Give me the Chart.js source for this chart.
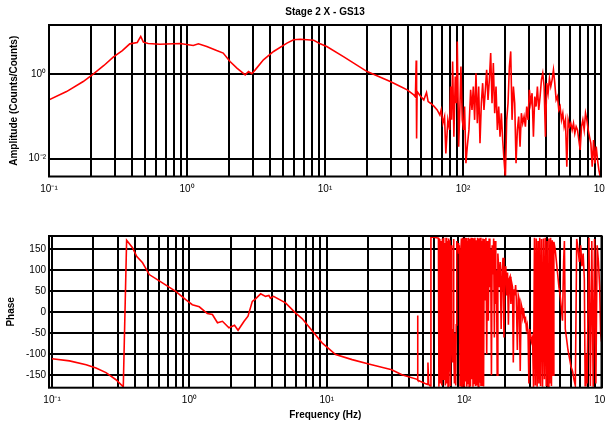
<!DOCTYPE html>
<html>
<head>
<meta charset="utf-8">
<script src="https://cdn.jsdelivr.net/npm/chart.js@4.4.1/dist/chart.umd.min.js"></script>
<style>
    html, body { margin: 0; padding: 0; background: #fff; }
    #wrap { position: relative; width: 605px; height: 424px; }
    .box { position: absolute; left: 0; width: 605px; }
    #ampBox { top: 0; height: 205px; }
    #phaseBox { top: 205px; height: 219px; }
</style>
</head>
<body>
<div id="wrap">
    <div class="box" id="ampBox"><canvas id="ampChart"></canvas></div>
    <div class="box" id="phaseBox"><canvas id="phaseChart"></canvas></div>
</div>
<script>
const chartTitle = 'Stage 2 X - GS13';
const ampAxisTitle = 'Amplitude (Counts/Counts)';
const phaseAxisTitle = 'Phase';
const freqAxisTitle = 'Frequency (Hz)';

// Tick labels
const freqDecades = [0.1, 1, 10, 100, 1000];
const freqDecadeLabels = ['10⁻¹', '10⁰', '10¹', '10²', '10³'];
const ampTicks = [0.01, 1];
const ampTickLabels = ['10⁻²', '10⁰'];
const phaseTicks = [-150, -100, -50, 0, 50, 100, 150];

// Amplitude response
const ampFreq = [0.1, 0.134, 0.177, 0.209, 0.25, 0.292, 0.34, 0.385, 0.436, 0.462,
    0.483, 0.523, 0.636, 0.89, 1.11, 1.21, 1.39, 1.64, 1.83, 2.05,
    2.3, 2.64, 2.79, 2.95, 3.12, 3.58, 4.24, 5.3, 5.92, 6.62,
    8.29, 9.24, 10.3, 13.6, 20.2, 29.7, 35.2, 39.4, 44.0, 45.2,
    45.8, 46.1, 46.5, 49.2, 52.0, 54.4, 55.9, 58.2, 61.5, 65.0,
    68.0, 69.5, 71.5, 73.5, 75.1, 77.7, 80.0, 81.3, 82.7, 84.1,
    85.9, 87.9, 89.4, 90.9, 93.0, 95.0, 96.6, 98.8, 101.0, 102.7,
    105.0, 107.4, 110.4, 113.6, 116.2, 118.8, 121.4, 124.2, 127.0, 129.9,
    132.8, 135.8, 138.8, 141.9, 145.2, 148.4, 151.8, 155.2, 158.7, 162.3,
    165.9, 169.7, 173.5, 177.4, 181.4, 185.5, 189.6, 193.9, 198.3, 202.8,
    207.3, 212.0, 216.8, 221.7, 226.7, 231.8, 237.0, 242.3, 247.7, 253.3,
    259.0, 264.9, 270.9, 277.0, 283.2, 289.6, 296.1, 302.8, 309.7, 316.6,
    323.8, 331.1, 338.5, 346.1, 353.9, 361.9, 370.1, 378.4, 387.0, 395.7,
    404.6, 413.7, 423.1, 432.5, 442.3, 452.3, 462.5, 472.9, 483.6, 494.5,
    505.6, 517.0, 528.7, 540.6, 552.8, 565.2, 578.0, 591.0, 604.3, 617.9,
    631.9, 646.1, 660.7, 675.6, 690.8, 706.4, 722.3, 738.6, 755.4, 772.4,
    789.8, 807.6, 825.8, 844.5, 863.5, 883.0, 902.9, 923.3, 944.2, 965.4,
    987.2];
const ampValue = [0.246, 0.387, 0.668, 1.0, 1.6, 2.53, 3.6, 5.2, 5.6, 7.8,
    5.7, 5.3, 5.1, 5.3, 4.76, 5.2, 4.5, 3.6, 3.14, 1.99,
    1.39, 0.96, 1.15, 1.02, 1.26, 2.18, 3.43, 5.4, 6.5, 6.7,
    6.3, 5.2, 4.5, 2.6, 1.15, 0.668, 0.509, 0.425, 0.323, 0.29,
    2.1, 0.03, 0.39, 0.3, 0.246, 0.367, 0.225, 0.205, 0.175, 0.143,
    0.108, 0.143, 0.069, 0.099, 0.0134, 0.083, 0.048, 0.509, 0.083, 1.99,
    0.033, 0.879, 0.205, 5.93, 0.0193, 0.171, 1.52, 0.083, 0.048, 0.171,
    0.0078, 0.0193, 0.048, 0.425, 0.143, 0.509, 0.083, 1.05, 0.069, 0.509,
    0.0231, 0.205, 0.611, 0.143, 0.425, 1.26, 0.246, 0.733, 3.14, 0.205,
    1.82, 0.119, 0.509, 0.048, 0.171, 0.033, 0.119, 0.0277, 0.0093, 0.0035,
    0.083, 0.205, 1.52, 3.44, 0.083, 0.509, 0.205, 0.0078, 0.048, 0.099,
    0.0193, 0.119, 0.069, 0.099, 0.0574, 0.171, 0.083, 0.425, 0.205, 0.354,
    0.033, 0.295, 0.171, 0.509, 0.143, 0.295, 0.733, 1.05, 0.509, 0.033,
    0.611, 0.354, 0.802, 0.509, 0.733, 1.26, 0.611, 0.246, 0.295, 0.143,
    0.171, 0.083, 0.119, 0.0574, 0.083, 0.00647, 0.083, 0.0574, 0.069, 0.048,
    0.069, 0.0399, 0.0574, 0.048, 0.0277, 0.0161, 0.0574, 0.083, 0.048, 0.119,
    0.083, 0.048, 0.033, 0.0231, 0.00647, 0.0277, 0.00776, 0.0193, 0.0093, 0.0054,
    0.0038];

// Phase response (degrees, wraps at +/-180)
const phaseFreq = [0.1, 0.134, 0.177, 0.209, 0.247, 0.292, 0.33, 0.349, 0.385, 0.414,
    0.456, 0.51, 0.636, 0.795, 0.94, 1.05, 1.18, 1.35, 1.47, 1.6,
    1.74, 1.94, 2.13, 2.26, 2.5, 2.67, 2.87, 3.03, 3.3, 3.58,
    3.79, 3.89, 4.1, 5.01, 5.91, 6.61, 8.05, 9.24, 11.6, 15.3,
    20.2, 29.7, 35.2, 45.5, 45.8, 46.1, 52, 54, 54.5, 55.2,
    56.6, 57.3, 60, 63, 65,
    65.5, 66.5, 67.2, 68, 68.8, 69.5, 70.3, 71, 71.7, 72.3,
    73, 73.8, 74.6, 75.5, 76.3, 77.2, 78, 78.8, 79.6, 80.5,
    81.3, 82.3, 83, 83.6, 84.3, 85, 85.9, 86.8, 87.6, 88.4,
    89.3, 90.3, 91.2, 92.2, 93.4, 94.3, 95.5, 96.5, 97.5, 98.5,
    99.5, 100.5, 101.6, 102.6, 103.6, 104.6, 105.6, 106.7, 107.8, 108.8,
    110, 111.2, 112.4, 113.6, 114.8, 116, 117.2, 118.5, 119.8, 121,
    122.4, 123.8, 125.2, 126.6, 128, 129.5, 131, 132.5, 134, 135.5,
    137, 138.5, 140, 142, 144, 146, 148, 150, 152, 154,
    156, 158, 160, 162, 164, 166, 168, 170, 172, 174,
    176, 178, 180, 183, 186, 189, 192, 195, 198, 201,
    204, 207, 210, 213, 216, 219, 222, 225, 228, 231,
    234, 237, 240, 244, 248, 252, 256, 260, 264, 268,
    272, 276, 280, 284, 288, 292, 296, 300, 305, 310,
    315, 320, 325, 330, 335, 340, 345, 350, 355, 360,
    366, 372, 378, 384, 390, 396, 402, 408, 414, 420,
    426, 432, 438, 444, 450, 460, 470, 480, 490, 500,
    510, 520, 530, 537, 545, 555, 570, 585, 600, 615,
    630, 645, 660, 675, 690, 705, 720, 735, 750, 760,
    770, 785, 810, 830, 850, 870, 890, 910, 930, 950,
    970, 985, 1000];
const phaseValue = [-111, -116, -125, -133, -144, -161, -178, 172, 154, 133,
    118, 90, 70, 50, 30, 18, 13, -3, -5.5, -25,
    -21.5, -37, -31, -43, -21.5, -9.5, 26, 32, 44, 38,
    40, 33.5, 38, 22.5, -1.5, -15, -49, -73, -101, -113,
    -123.5, -137, -149, -160, -8, -162, -170, -172, -120, -172,
    -176, 180, 179, 178, 177,
    -178, 175, -170, 170, -175, 176, -160, 178, -100, 165,
    -175, 178, -170, 170, -178, 176, -140, 172, -176, 160,
    -60, -120, -40, 175, -90, -170, -50, -175, -30, 170,
    150, 165, 140, 160, -175, 130, 176, -178, 178, -170,
    176, -178, 178, -165, 177, -178, 170, -170, 178, -178,
    175, -176, 178, -160, 177, -178, 175, -170, 178, -176,
    172, -175, 178, -178, 176, -168, 178, -176, 170, -174,
    176, -177, 175, 30, 178, -100, 170, -20, 176, 60,
    150, -150, 160, 90, 176, -60, 170, 20, 100, -150,
    140, 110, 60, 120, -40, 100, 130, -60, 90, 110,
    40, 95, -30, 80, 85, 20, 70, 60, -120, 55,
    40, 65, 30, -90, 40, 30, -140, 20, 10, -10,
    0, -20, -15, -40, -30, -50, -170, -40, -55, -70,
    -60, -178, 178, -175, 176, -178, 170, -170, 178, -176,
    175, -178, 176, -160, 178, -176, 170, -178, 176, -170,
    178, -176, 172, -150, 168, 150, 120, 90, 60, 40,
    10, -20, 120, 170, -40, -60, -90, -110, -130, -140,
    -160, -175, 175, 150, 120, 160, 110, 140, 80, -175,
    -100, -170, 178, -176, 170, -178, 175, -170, 160, 120,
    60, -50, -70];

// Vertical grid: 1..9 times every decade
const freqGrid = [];
freqDecades.slice(0, -1).forEach(d => {
    for (let m = 1; m < 10; m++) freqGrid.push(d * m);
});
freqGrid.push(1000);

Chart.defaults.font.family = '"Liberation Sans", Arial, sans-serif';
Chart.defaults.color = '#000';

const tickFont = { size: 10 };
const titleFont = { size: 10, weight: 'bold' };
const gridStyle = { color: '#000', lineWidth: 2, drawTicks: false };

function labelFor(value, values, labels) {
    const i = values.findIndex(v => Math.abs(v - value) < v * 1e-6 || v === value);
    return i === -1 ? '' : labels[i];
}

function toPoints(xs, ys) {
    return xs.map((x, i) => ({ x: x, y: ys[i] }));
}

// Black frame round the plot area
const axesBox = {
    id: 'axesBox',
    afterDatasetsDraw(chart) {
        const { ctx, chartArea: a } = chart;
        ctx.save();
        ctx.strokeStyle = '#000';
        ctx.lineWidth = 2;
        ctx.strokeRect(a.left, a.top, a.right - a.left, a.bottom - a.top);
        ctx.restore();
    }
};

function freqAxis(min, height, withTitle) {
    return {
        type: 'logarithmic',
        min: min,
        max: 1000,
        afterBuildTicks: s => { s.ticks = freqGrid.map(v => ({ value: v })); },
        afterFit: s => {
            s.height = height;
            // let the end labels hang over the edge instead of shrinking the plot
            s.paddingLeft = 0;
            s.paddingRight = 0;
        },
        ticks: {
            autoSkip: false,
            maxRotation: 0,
            padding: 7,
            font: tickFont,
            callback: v => labelFor(v, freqDecades, freqDecadeLabels)
        },
        grid: gridStyle,
        border: { display: false },
        title: {
            display: withTitle,
            text: freqAxisTitle,
            font: titleFont,
            padding: { top: 0, bottom: 3 }
        }
    };
}

const lineStyle = {
    borderColor: '#ff0000',
    borderWidth: 1.6,
    pointRadius: 0,
    tension: 0,
    fill: false
};

new Chart(document.getElementById('ampChart'), {
    type: 'line',
    data: {
        datasets: [Object.assign({ data: toPoints(ampFreq, ampValue) }, lineStyle)]
    },
    options: {
        animation: false,
        responsive: true,
        maintainAspectRatio: false,
        layout: { padding: { top: 2, right: 4, bottom: 0, left: 0 } },
        plugins: {
            legend: { display: false },
            tooltip: { enabled: false },
            title: {
                display: true,
                text: chartTitle,
                fullSize: false,
                font: titleFont,
                padding: { top: 4, bottom: 7 }
            }
        },
        scales: {
            x: freqAxis(0.1, 28.5, false),
            y: {
                type: 'logarithmic',
                min: 0.0038,
                max: 14.5,
                afterBuildTicks: s => { s.ticks = ampTicks.map(v => ({ value: v })); },
                afterFit: s => { s.width = 49; },
                ticks: {
                    padding: 3,
                    font: tickFont,
                    callback: v => labelFor(v, ampTicks, ampTickLabels)
                },
                grid: gridStyle,
                border: { display: false },
                title: {
                    display: true,
                    text: ampAxisTitle,
                    font: titleFont,
                    padding: { top: 8.5, bottom: 0 }
                }
            }
        }
    },
    plugins: [axesBox]
});

new Chart(document.getElementById('phaseChart'), {
    type: 'line',
    data: {
        datasets: [Object.assign({ data: toPoints(phaseFreq, phaseValue) }, lineStyle)]
    },
    options: {
        animation: false,
        responsive: true,
        maintainAspectRatio: false,
        layout: { padding: { top: 31, right: 3.5, bottom: 0, left: 0 } },
        plugins: {
            legend: { display: false },
            tooltip: { enabled: false }
        },
        scales: {
            x: freqAxis(0.095, 36.3, true),
            y: {
                type: 'linear',
                min: -180,
                max: 182,
                afterBuildTicks: s => { s.ticks = phaseTicks.map(v => ({ value: v })); },
                afterFit: s => { s.width = 49; },
                ticks: {
                    padding: 3,
                    font: tickFont,
                    callback: v => String(v)
                },
                grid: gridStyle,
                border: { display: false },
                title: {
                    display: true,
                    text: phaseAxisTitle,
                    font: titleFont,
                    padding: { top: 5.5, bottom: 0 }
                }
            }
        }
    },
    plugins: [axesBox]
});
</script>
</body>
</html>
